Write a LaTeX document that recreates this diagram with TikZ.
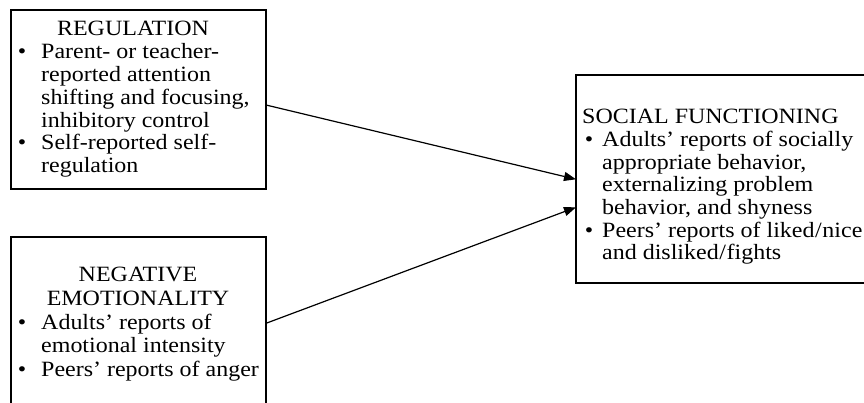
\documentclass[tikz,border=0pt]{standalone}
\usepackage{fontspec}
\setmainfont[FakeStretch=1.1]{Liberation Serif}
\usetikzlibrary{arrows.meta}
\begin{document}
\begin{tikzpicture}[x=1pt,y=-1pt,
  box/.style={draw, line width=1.2pt, inner sep=0pt, outer sep=0pt, anchor=north west},
  txt/.style={anchor=base west, inner sep=0pt, font=\fontsize{21.8}{23}\selectfont},
  ttl/.style={anchor=base, inner sep=0pt, font=\fontsize{21.8}{23}\selectfont},
  bul/.style={anchor=base, inner sep=0pt, font=\fontsize{21.8}{23}\selectfont},
  arr/.style={line width=1.2pt, -{Triangle[length=12pt,width=9pt]}}]
\useasboundingbox (0,0) rectangle (864,403);
\clip (0,0) rectangle (864,403);
% boxes
\node[box, minimum width=255pt, minimum height=179pt] (r) at (11,10) {};
\node[box, minimum width=255pt, minimum height=200pt] (n) at (11,237) {};
\node[box, minimum width=320pt, minimum height=208pt] (s) at (576,75) {};
% REGULATION box
\node[ttl] (r0) at (133,36) {REGULATION};
\node[bul] (rb1) at (22,58.8) {\textbullet};
\node[txt] (r1) at (41,58.8) {Parent- or teacher-};
\node[txt] (r2) at (41,81.6) {reported attention};
\node[txt] (r3) at (41,104.4) {shifting and focusing,};
\node[txt] (r4) at (41,127.2) {inhibitory control};
\node[bul] (rb2) at (22,150) {\textbullet};
\node[txt] (r5) at (41,150) {Self-reported self-};
\node[txt] (r6) at (41,172.8) {regulation};
% NEGATIVE EMOTIONALITY box
\node[ttl] (n0) at (138,281.7) {NEGATIVE};
\node[ttl] (n1) at (138,305.4) {EMOTIONALITY};
\node[bul] (nb1) at (22,329.2) {\textbullet};
\node[txt] (n2) at (41,329.2) {Adults’ reports of};
\node[txt] (n3) at (41,352.9) {emotional intensity};
\node[bul] (nb2) at (22,376.6) {\textbullet};
\node[txt] (n4) at (41,376.6) {Peers’ reports of anger};
% SOCIAL FUNCTIONING box
\node[txt] (s0) at (582,124) {SOCIAL FUNCTIONING};
\node[bul] (sb1) at (589,146.7) {\textbullet};
\node[txt] (s1) at (602,146.7) {Adults’ reports of socially};
\node[txt] (s2) at (602,169.3) {appropriate behavior,};
\node[txt] (s3) at (602,192) {externalizing problem};
\node[txt] (s4) at (602,214.7) {behavior, and shyness};
\node[bul] (sb2) at (589,237.3) {\textbullet};
\node[txt] (s5) at (602,237.3) {Peers’ reports of liked\kern0.6pt/\kern0.6pt nice};
\node[txt] (s6) at (602,260) {and disliked\kern0.6pt/\kern0.6pt fights};
% connectors
\draw[arr] ([yshift=-95pt]r.north east) -- ([yshift=-104.3pt]s.north west);
\draw[arr] ([yshift=-86.3pt]n.north east) -- ([yshift=-132.3pt]s.north west);
\end{tikzpicture}
\end{document}
